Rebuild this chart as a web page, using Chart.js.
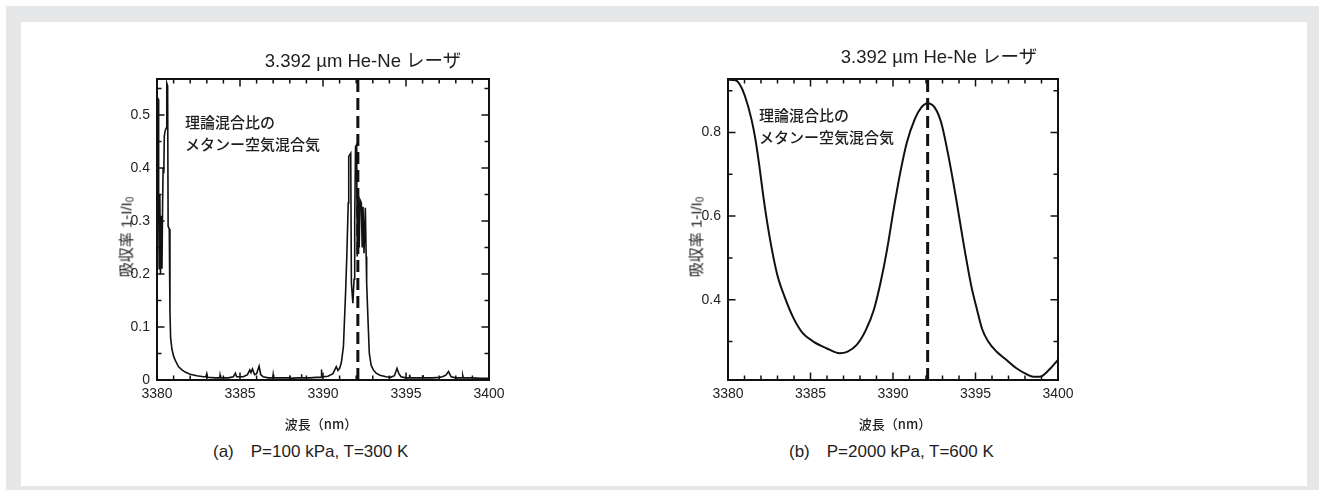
<!DOCTYPE html>
<html><head><meta charset="utf-8">
<script src="https://cdn.jsdelivr.net/npm/chart.js@4.4.1/dist/chart.umd.min.js"></script>
<style>
html,body{margin:0;padding:0;background:#fff;}
body{width:1319px;height:490px;position:relative;overflow:hidden;font-family:"Liberation Sans","Noto Sans CJK JP",sans-serif;color:#222;}
#frame{position:absolute;left:6px;top:6px;width:1313px;height:484px;background:#e6e7e9;}
#panel{position:absolute;left:21px;top:22px;width:1286px;height:464px;background:#fff;}
#stage{position:absolute;left:0;top:0;width:1319px;height:490px;}
.box{position:absolute;}
.t{position:absolute;white-space:nowrap;color:#1e1e1e;}
.title{font-size:18.5px;line-height:18.5px;transform:translateX(-50%);}
.note{font-family:"Noto Sans CJK JP","Liberation Sans",sans-serif;font-size:15px;line-height:22px;font-weight:500;}
.sub{font-size:17px;line-height:17px;}
.xt{font-family:"Noto Sans CJK JP","Liberation Sans",sans-serif;font-size:13px;line-height:13px;font-weight:500;transform:translate(-50%,-50%);}
.yt{font-family:"Liberation Sans","Noto Sans CJK JP",sans-serif;font-size:15px;line-height:15px;transform:translate(-50%,-50%) rotate(-90deg);}
.yt sub{font-size:10px;vertical-align:-2px;line-height:0;}
</style></head>
<body>
<div id="frame"></div>
<div id="panel"></div>
<div id="stage">
  <div class="box" style="left:80px;top:40px;width:460px;height:380px;"><canvas id="c1"></canvas></div>
  <div class="box" style="left:650px;top:40px;width:460px;height:380px;"><canvas id="c2"></canvas></div>

  <div class="t title" style="left:363px;top:52px;">3.392 µm He-Ne レーザ</div>
  <div class="t title" style="left:939px;top:48px;">3.392 µm He-Ne レーザ</div>

  <div class="t note" style="left:185px;top:111px;">理論混合比の<br>メタンー空気混合気</div>
  <div class="t note" style="left:759px;top:104px;">理論混合比の<br>メタンー空気混合気</div>

  <div class="t yt" style="left:126px;top:237px;">吸収率 1-I/I<sub>0</sub></div>
  <div class="t yt" style="left:696px;top:237px;">吸収率 1-I/I<sub>0</sub></div>

  <div class="t xt" style="left:321px;top:423px;">波長（nm）</div>
  <div class="t xt" style="left:895px;top:423px;">波長（nm）</div>

  <div class="t sub" style="left:213px;top:443px;">(a)　P=100 kPa, T=300 K</div>
  <div class="t sub" style="left:789px;top:443px;">(b)　P=2000 kPa, T=600 K</div>
</div>
<script>
// ---- data ----
const xTickValues = [3380, 3385, 3390, 3395, 3400];
const xTickLabels = ['3380', '3385', '3390', '3395', '3400'];
const xMinorValues = [3381,3382,3383,3384,3386,3387,3388,3389,3391,3392,3393,3394,3396,3397,3398,3399];

const leftYTickValues = [0, 0.1, 0.2, 0.3, 0.4, 0.5];
const leftYTickLabels = ['0', '0.1', '0.2', '0.3', '0.4', '0.5'];
const leftYMinorValues = [0.05, 0.15, 0.25, 0.35, 0.45, 0.55];

const rightYTickValues = [0.4, 0.6, 0.8];
const rightYTickLabels = ['0.4', '0.6', '0.8'];
const rightYMinorValues = [0.3, 0.5, 0.7, 0.9];

const laserWavelength = 3392.1;

const leftWavelength = [
3380.00,3380.07,3380.10,3380.13,3380.17,3380.21,3380.26,3380.30,3380.34,3380.37,
3380.41,3380.44,3380.49,3380.55,3380.59,3380.64,3380.67,3380.74,3380.78,3380.82,
3380.90,3381.00,3381.10,3381.30,3381.50,3381.70,3382.00,3382.40,3382.80,3382.95,
3383.00,3383.05,3383.50,3383.78,3383.80,3383.83,3384.30,3384.60,3384.72,3384.80,
3385.20,3385.45,3385.59,3385.66,3385.75,3385.88,3386.00,3386.15,3386.25,3386.40,
3386.70,3386.98,3387.00,3387.03,3387.50,3387.99,3388.00,3388.03,3388.40,3388.68,
3388.70,3388.73,3389.20,3389.60,3389.88,3389.90,3389.93,3390.30,3390.60,3390.80,
3390.90,3391.00,3391.10,3391.23,3391.36,3391.44,3391.52,3391.55,3391.67,3391.71,
3391.80,3391.87,3391.91,3391.96,3392.03,3392.06,3392.12,3392.18,3392.23,3392.31,
3392.36,3392.41,3392.47,3392.55,3392.60,3392.63,3392.71,3392.79,3392.90,3393.03,
3393.20,3393.43,3393.80,3394.06,3394.30,3394.46,3394.57,3394.70,3395.00,3395.20,
3395.22,3395.25,3395.80,3396.00,3396.02,3396.05,3396.60,3397.00,3397.20,3397.40,
3397.56,3397.72,3398.00,3398.40,3398.42,3398.45,3399.00,3399.50,3400.00];
const leftAbsorbance = [
0.535,0.530,0.340,0.210,0.350,0.200,0.310,0.210,0.340,0.400,
0.390,0.460,0.470,0.475,0.560,0.555,0.290,0.285,0.130,0.080,
0.058,0.045,0.037,0.025,0.019,0.015,0.011,0.008,0.006,0.006,
0.012,0.005,0.004,0.004,0.009,0.004,0.004,0.006,0.013,0.006,
0.006,0.010,0.019,0.014,0.021,0.010,0.012,0.026,0.010,0.006,
0.004,0.004,0.010,0.004,0.004,0.004,0.008,0.003,0.004,0.004,
0.011,0.004,0.004,0.005,0.005,0.020,0.006,0.007,0.012,0.025,
0.018,0.022,0.032,0.063,0.164,0.239,0.334,0.422,0.428,0.183,
0.145,0.190,0.300,0.440,0.444,0.233,0.353,0.250,0.340,0.334,
0.250,0.327,0.239,0.325,0.233,0.183,0.114,0.050,0.028,0.019,
0.013,0.009,0.006,0.005,0.008,0.022,0.012,0.006,0.004,0.004,
0.010,0.004,0.004,0.004,0.009,0.004,0.004,0.005,0.006,0.009,
0.016,0.006,0.004,0.004,0.008,0.004,0.004,0.003,0.003];

const rightWavelength = [
3380.00,3380.46,3380.70,3381.02,3381.42,3381.66,3381.90,3382.14,3382.38,3382.70,
3383.01,3383.42,3383.97,3384.53,3385.17,3385.97,3386.77,3387.25,3387.80,3388.36,
3388.84,3389.24,3389.64,3390.04,3390.44,3390.84,3391.32,3391.72,3392.09,3392.52,
3392.92,3393.32,3393.80,3394.27,3394.75,3395.10,3395.40,3395.77,3396.27,3396.88,
3397.48,3398.09,3398.50,3398.90,3399.40,3400.00];
const rightAbsorbance = [
0.926,0.925,0.916,0.888,0.832,0.784,0.720,0.648,0.584,0.512,
0.456,0.408,0.356,0.320,0.300,0.284,0.272,0.276,0.292,0.328,
0.376,0.440,0.520,0.616,0.704,0.776,0.832,0.860,0.870,0.860,
0.824,0.752,0.648,0.536,0.432,0.375,0.330,0.300,0.276,0.256,
0.236,0.222,0.216,0.216,0.230,0.256];

// ---- drawing ----
Chart.defaults.font.family = '"Liberation Sans", Arial, sans-serif';
Chart.defaults.color = '#1e1e1e';
Chart.defaults.animation = false;

const frameTicks = {
  id: 'frameTicks',
  afterDatasetsDraw(chart, args, o) {
    const {ctx, chartArea: {left, right, top, bottom}, scales: {x, y}} = chart;
    ctx.save();
    ctx.strokeStyle = '#111';
    ctx.lineWidth = 1.5;
    ctx.beginPath();
    const xt = (vals, len) => vals.forEach(v => {
      const p = x.getPixelForValue(v);
      ctx.moveTo(p, bottom); ctx.lineTo(p, bottom - len);
      ctx.moveTo(p, top); ctx.lineTo(p, top + len);
    });
    const yt = (vals, len) => vals.forEach(v => {
      const p = y.getPixelForValue(v);
      if (p < top - 0.5 || p > bottom + 0.5) return;
      ctx.moveTo(left, p); ctx.lineTo(left + len, p);
      ctx.moveTo(right, p); ctx.lineTo(right - len, p);
    });
    xt(o.xMajor, 7.5); xt(o.xMinor, 4.5);
    yt(o.yMajor, 7.5); yt(o.yMinor, 4.5);
    ctx.stroke();
    ctx.lineWidth = 2;
    ctx.strokeRect(left, top, right - left, bottom - top);
    ctx.restore();
  }
};

function makeChart(id, xs, ys, yMin, yMax, yVals, yLabels, yMinor, yWidth, padRight, lineW, smooth) {
  const pts = xs.map((v, i) => ({x: v, y: ys[i]}));
  const laser = [{x: laserWavelength, y: yMin}, {x: laserWavelength, y: yMax}];
  return new Chart(document.getElementById(id), {
    type: 'line',
    data: {datasets: [
      {data: pts, borderColor: '#111', borderWidth: lineW, pointRadius: 0,
       tension: smooth ? 0.4 : 0, cubicInterpolationMode: smooth ? 'monotone' : 'default'},
      {data: laser, borderColor: '#111', borderWidth: 3, borderDash: [12, 6], pointRadius: 0}
    ]},
    options: {
      responsive: true, maintainAspectRatio: false,
      layout: {padding: {left: 0, top: 39, right: padRight, bottom: 0}},
      plugins: {legend: {display: false}, tooltip: {enabled: false},
        frameTicks: {xMajor: xTickValues, xMinor: xMinorValues, yMajor: yVals, yMinor: yMinor}},
      scales: {
        x: {type: 'linear', min: 3380, max: 3400,
          grid: {display: false, drawTicks: false}, border: {display: false},
          afterBuildTicks: s => { s.ticks = xTickValues.map(v => ({value: v})); },
          ticks: {padding: 6, font: {size: 14}, maxRotation: 0, autoSkip: false,
            callback: (v) => xTickLabels[xTickValues.indexOf(v)]},
          afterFit: s => { s.height = 40; s.paddingLeft = 0; s.paddingRight = 0; }
        },
        y: {type: 'linear', min: yMin, max: yMax,
          grid: {display: false, drawTicks: false}, border: {display: false},
          afterBuildTicks: s => { s.ticks = yVals.map(v => ({value: v})); },
          ticks: {padding: 7, font: {size: 14}, autoSkip: false,
            callback: (v) => yLabels[yVals.indexOf(v)]},
          afterFit: s => { s.width = yWidth; s.paddingTop = 0; s.paddingBottom = 0; }
        }
      }
    },
    plugins: [frameTicks]
  });
}

makeChart('c1', leftWavelength, leftAbsorbance, 0, 0.568, leftYTickValues, leftYTickLabels, leftYMinorValues, 77, 51, 1.6, false);
makeChart('c2', rightWavelength, rightAbsorbance, 0.208, 0.928, rightYTickValues, rightYTickLabels, rightYMinorValues, 78, 52, 2, true);
</script>
</body></html>
